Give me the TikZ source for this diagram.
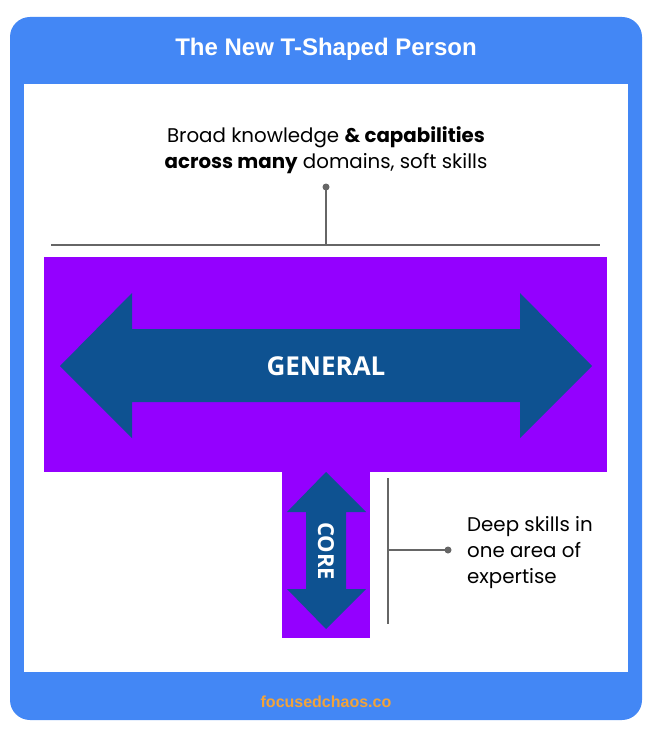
\documentclass[tikz,border=0pt]{standalone}
\usepackage{fontspec}
\setmainfont{Poppins}
\newfontfamily\titlefont{Liberation Sans}
\newfontfamily\labelfont{Open Sans}
\usetikzlibrary{calc}
\definecolor{frameblue}{HTML}{4387F5}
\definecolor{tpurple}{HTML}{9400FF}
\definecolor{arrowblue}{HTML}{0E5291}
\definecolor{linegray}{HTML}{666666}
\definecolor{footorange}{HTML}{F2A33A}
\tikzset{
  conn/.style={draw=linegray, line width=1.6pt},
  dotend/.style={circle, fill=linegray, inner sep=0pt, minimum size=7pt},
  desc/.style={font=\fontsize{19.8}{26}\selectfont, text=black, inner sep=0pt},
  biglabel/.style={text=white, font=\labelfont\bfseries, inner sep=0pt}
}
\begin{document}
\begin{tikzpicture}[x=1pt,y=-1pt]
\useasboundingbox (0,0) rectangle (653,738);
% frame
\fill[frameblue, rounded corners=20pt] (10,17) rectangle (642,720);
\fill[white] (24,84) rectangle (628,672);
\node[text=white, font=\titlefont\bfseries\fontsize{24}{28}\selectfont] (title) at (326,49) {The New T-Shaped Person};
\node[text=footorange, font=\titlefont\bfseries\fontsize{16}{18}\selectfont] (footer) at (326,702) {focusedchaos.co};
% T shape
\fill[tpurple] (44,257) rectangle (607,472);
\fill[tpurple] (282,471) rectangle (370,638);
% horizontal double arrow
\fill[arrowblue] (60,366) -- (132,293) -- (132,329) -- (520,329) -- (520,293) -- (592,366)
  -- (520,438) -- (520,402) -- (132,402) -- (132,438) -- cycle;
\node[biglabel, font=\labelfont\bfseries\fontsize{26}{28}\selectfont] (general) at (326,366) {GENERAL};
% vertical double arrow
\fill[arrowblue] (326,472) -- (366,512) -- (346,512) -- (346,589) -- (366,589) -- (326,629)
  -- (287,589) -- (306,589) -- (306,512) -- (287,512) -- cycle;
\node[biglabel, rotate=-90, font=\labelfont\bfseries\fontsize{22}{26}\selectfont] (core) at (326,551) {CORE};
% top annotation
\node[desc, align=center] (broad) at (326,150.5) {Broad knowledge \textbf{\& capabilities}\\\textbf{across many} domains, soft skills};
\coordinate (hl) at (51,245);
\coordinate (hr) at (600,245);
\coordinate (hm) at (326,245);
\node[dotend] (topdot) at (326,187) {};
\draw[conn] (hl) -- (hr);
\draw[conn] (hm) -- (topdot.center);
% right annotation
\coordinate (vt) at (388,478);
\coordinate (vb) at (388,624);
\coordinate (vm) at (388,550);
\node[dotend] (sidedot) at (448,550) {};
\draw[conn] (vt) -- (vb);
\draw[conn] (vm) -- (sidedot.center);
\node[desc, align=left, anchor=west] (deep) at (467,553) {Deep skills in\\one area of\\expertise};
\end{tikzpicture}
\end{document}
